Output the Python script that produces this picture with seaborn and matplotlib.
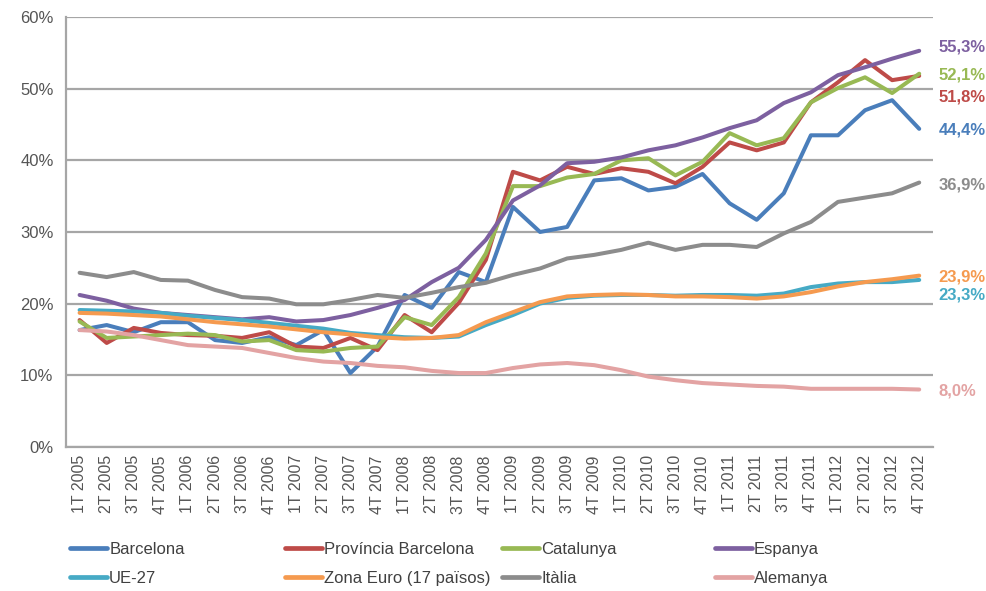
import numpy as np
import pandas as pd
import matplotlib
matplotlib.use("Agg")
import matplotlib.pyplot as plt
from matplotlib.lines import Line2D
import seaborn as sns

# -----------------------------
# Data (% values)
# -----------------------------
quarters = [f"{q}T {y}" for y in range(2005, 2013) for q in range(1, 5)]

barcelona = [16.3, 17.0, 16.0, 17.4, 17.4, 14.9, 14.5, 15.3, 14.2, 16.3, 10.3, 14.0,
             21.2, 19.4, 24.4, 23.0, 33.5, 30.0, 30.7, 37.2, 37.5, 35.8, 36.3, 38.1,
             34.0, 31.7, 35.4, 43.5, 43.5, 47.0, 48.4, 44.4]
provincia = [17.7, 14.5, 16.6, 15.9, 15.6, 15.5, 15.2, 16.0, 14.0, 13.8, 15.2, 13.5,
             18.4, 16.0, 20.1, 26.1, 38.4, 37.2, 39.1, 38.1, 38.9, 38.4, 36.8, 39.1,
             42.5, 41.4, 42.5, 48.1, 50.9, 54.0, 51.2, 51.8]
catalunya = [17.5, 15.2, 15.4, 15.6, 15.8, 15.6, 14.7, 14.9, 13.5, 13.3, 13.8, 14.0,
             18.1, 17.0, 20.9, 27.0, 36.4, 36.4, 37.6, 38.1, 40.0, 40.3, 37.9, 39.8,
             43.8, 42.1, 43.1, 48.1, 50.1, 51.6, 49.4, 52.1]
espanya = [21.2, 20.4, 19.3, 18.7, 18.4, 18.1, 17.8, 18.1, 17.5, 17.7, 18.4, 19.4,
           20.5, 23.0, 25.0, 28.9, 34.4, 36.5, 39.6, 39.8, 40.4, 41.4, 42.1, 43.2,
           44.5, 45.6, 48.0, 49.5, 51.9, 53.0, 54.2, 55.3]
ue27 = [19.1, 19.0, 18.9, 18.7, 18.3, 18.0, 17.7, 17.3, 16.9, 16.5, 15.9, 15.6,
        15.3, 15.2, 15.4, 17.0, 18.4, 20.0, 20.8, 21.1, 21.2, 21.2, 21.1, 21.2,
        21.2, 21.1, 21.4, 22.3, 22.8, 23.0, 23.0, 23.3]
zona_euro = [18.7, 18.6, 18.4, 18.2, 17.8, 17.4, 17.1, 16.8, 16.4, 16.0, 15.7, 15.3,
             15.1, 15.2, 15.6, 17.4, 18.8, 20.2, 21.0, 21.2, 21.3, 21.2, 21.0, 21.0,
             20.9, 20.7, 21.0, 21.6, 22.4, 23.0, 23.4, 23.9]
italia = [24.3, 23.7, 24.4, 23.3, 23.2, 21.9, 20.9, 20.7, 19.9, 19.9, 20.5, 21.2,
          20.8, 21.5, 22.3, 22.9, 24.0, 24.9, 26.3, 26.8, 27.5, 28.5, 27.5, 28.2,
          28.2, 27.9, 29.8, 31.4, 34.2, 34.8, 35.4, 36.9]
alemanya = [16.3, 16.1, 15.6, 14.9, 14.2, 14.0, 13.8, 13.1, 12.4, 11.9, 11.7, 11.3,
            11.1, 10.6, 10.3, 10.3, 11.0, 11.5, 11.7, 11.4, 10.7, 9.8, 9.3, 8.9,
            8.7, 8.5, 8.4, 8.1, 8.1, 8.1, 8.1, 8.0]

series_names = ["Barcelona", "Província Barcelona", "Catalunya", "Espanya",
                "UE-27", "Zona Euro (17 països)", "Itàlia", "Alemanya"]
series_values = [barcelona, provincia, catalunya, espanya,
                 ue27, zona_euro, italia, alemanya]
colors = ["#4A7EBB", "#BE4B48", "#98B954", "#7D60A0",
          "#46AAC5", "#F59A4F", "#8C8C8C", "#E3A3A3"]

# end labels: text, series index, vertical offset in points
end_labels = ["55,3%", "52,1%", "51,8%", "44,4%", "36,9%", "23,9%", "23,3%", "8,0%"]
end_series = [3, 2, 1, 0, 6, 5, 4, 7]
end_offsets = [2.5, -1, -15, -1, -2, -1, -11, -1]

# -----------------------------
# Long-form frame for seaborn
# -----------------------------
rows = []
for name, vals in zip(series_names, series_values):
    for i, v in enumerate(vals):
        rows.append({"pos": i, "quarter": quarters[i], "serie": name, "valor": v})
df = pd.DataFrame(rows)

sns.set_style("white")
plt.rcParams["font.family"] = ["Liberation Sans", "DejaVu Sans"]

fig = plt.figure(figsize=(9.86, 5.91), dpi=100)
ax = fig.add_axes([0.067, 0.244, 0.879, 0.727])

sns.lineplot(data=df, x="pos", y="valor", hue="serie", hue_order=series_names,
             palette=colors, linewidth=2.9, ax=ax, legend=False, zorder=3)

# axes styling
ax.set_xlim(-0.5, len(quarters) - 0.5)
ax.set_ylim(0, 60)
ax.set_yticks(range(0, 61, 10))
ax.set_yticklabels([f"{v}%" for v in range(0, 61, 10)], fontsize=12, color="#555555")
ax.set_xticks(range(len(quarters)))
ax.set_xticklabels(quarters, rotation=90, fontsize=11.5, color="#555555")
ax.set_xticks(np.arange(-0.5, len(quarters), 1), minor=True)
ax.tick_params(axis="x", which="major", length=0, pad=6)
ax.tick_params(axis="x", which="minor", length=5, color="#999999", width=1.2)
ax.tick_params(axis="y", length=5, color="#999999", width=1.2, pad=4)
ax.set_xlabel("")
ax.set_ylabel("")
ax.yaxis.grid(True, color="#A6A6A6", linewidth=1.6, zorder=0)
ax.xaxis.grid(False)
for s in ["top", "right"]:
    ax.spines[s].set_visible(False)
for s in ["left", "bottom"]:
    ax.spines[s].set_color("#A6A6A6")
    ax.spines[s].set_linewidth(1.6)

# end-of-line value labels
last = len(quarters) - 1
for txt, idx, off in zip(end_labels, end_series, end_offsets):
    ax.annotate(txt, xy=(last, series_values[idx][-1]), xytext=(14, off),
                textcoords="offset points", va="center", ha="left",
                fontsize=12, fontweight="bold", color=colors[idx],
                annotation_clip=False)

# legend: four columns of two entries
col_x = [0.071, 0.289, 0.509, 0.725]
for c in range(4):
    idxs = [c, c + 4]
    handles = [Line2D([], [], color=colors[i], linewidth=3.4) for i in idxs]
    fig.legend(handles, [series_names[i] for i in idxs], loc="upper left",
               bbox_to_anchor=(col_x[c], 0.083), frameon=False, fontsize=12,
               handlelength=2.2, handletextpad=0.15, labelspacing=0.85,
               borderaxespad=0, borderpad=0, labelcolor="#404040")

fig.savefig("out.png", dpi=100, facecolor="white")
